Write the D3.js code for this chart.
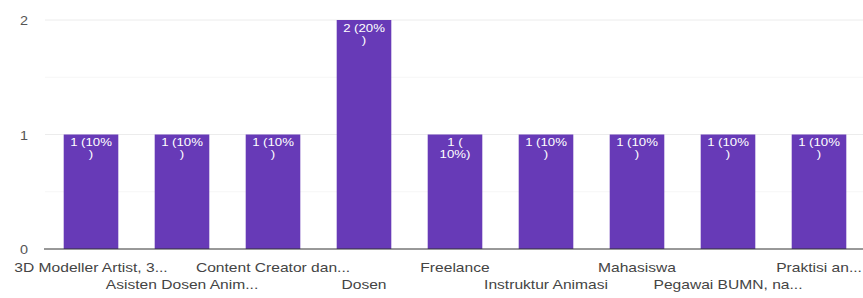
<!DOCTYPE html>
<head>
<meta charset="utf-8">
<title>Pekerjaan</title>
<script src="https://d3js.org/d3.v7.min.js" charset="utf-8"></script>
<style>
  body { margin: 0; background: #fff; }
  text { font-family: Arial, "Liberation Sans", sans-serif; }
</style>
</head>
<body>
<div id="chart"></div>
<script>

// data
const categories = ["3D Modeller Artist, 3...", "Asisten Dosen Anim...", "Content Creator dan...", "Dosen", "Freelance",
  "Instruktur Animasi", "Mahasiswa", "Pegawai BUMN, na...", "Praktisi an..."];
const counts = [1, 1, 1, 2, 1, 1, 1, 1, 1];
const barLabels = [["1 (10%", ")"], ["1 (10%", ")"], ["1 (10%", ")"], ["2 (20%", ")"], ["1 (", "10%)"],
  ["1 (10%", ")"], ["1 (10%", ")"], ["1 (10%", ")"], ["1 (10%", ")"]];
const yTicks = [0, 1, 2];
const yMinor = [0.5, 1.5];

const width = 863, height = 298;
const sx = 1.2; // the picture is a bit stretched sideways

function CreateSVG(){
  return d3.select("#chart").append("svg")
    .attr("width", width)
    .attr("height", height);
}

function stretched(sel, x, y){
  return sel.attr("transform", (d, i) => `translate(${typeof x == "function" ? x(d, i) : x},${typeof y == "function" ? y(d, i) : y}) scale(${sx},1)`);
}

function drawChart(svg){

  const x = d3.scaleBand()
    .domain(categories)
    .range([45.5, 864.5])
    .paddingInner(0.4)
    .paddingOuter(0.2);

  const y = d3.scaleLinear()
    .domain([0, 2])
    .range([249, 20]);

  // grid
  svg.selectAll(".minor").data(yMinor).join("line")
    .attr("x1", 45).attr("x2", width)
    .attr("y1", d => y(d)).attr("y2", d => y(d))
    .attr("stroke", "#f6f6f6");
  svg.selectAll(".major").data(yTicks.filter(d => d > 0)).join("line")
    .attr("x1", 45).attr("x2", width)
    .attr("y1", d => y(d)).attr("y2", d => y(d))
    .attr("stroke", "#ececec");

  // y tick labels
  stretched(svg.selectAll(".ytick").data(yTicks).join("text")
    .attr("text-anchor", "end")
    .attr("dy", "0.35em")
    .attr("font-size", 12)
    .attr("fill", "#555")
    .text(d => d), 28, d => y(d) + 1);

  // bars
  svg.selectAll(".bar").data(counts).join("rect")
    .attr("x", (d, i) => x(categories[i]))
    .attr("width", x.bandwidth())
    .attr("y", d => y(d))
    .attr("height", d => y(0) - y(d))
    .attr("fill", "#673ab7");

  // labels inside bars
  const ann = svg.selectAll(".ann").data(counts).join("g");
  ann.each(function(d, i){
    const cx = x(categories[i]) + x.bandwidth() / 2;
    stretched(d3.select(this).selectAll("text").data(barLabels[i]).join("text")
      .attr("text-anchor", "middle")
      .attr("font-size", 11)
      .attr("fill", "#fff")
      .text(t => t), cx, (t, j) => y(d) + 11.5 + j * 12);
  });

  // baseline
  svg.append("line")
    .attr("x1", 44).attr("x2", width)
    .attr("y1", y(0)).attr("y2", y(0))
    .attr("stroke", "#333")
    .attr("stroke-width", 1);

  // category labels, two staggered rows
  stretched(svg.selectAll(".xlab").data(categories).join("text")
    .attr("text-anchor", "middle")
    .attr("font-size", 13)
    .attr("fill", "#444")
    .text(d => d), d => x(d) + x.bandwidth() / 2, (d, i) => i % 2 == 0 ? 272 : 289);
}

let svg = CreateSVG();
drawChart(svg);

</script>
</body>
</html>
